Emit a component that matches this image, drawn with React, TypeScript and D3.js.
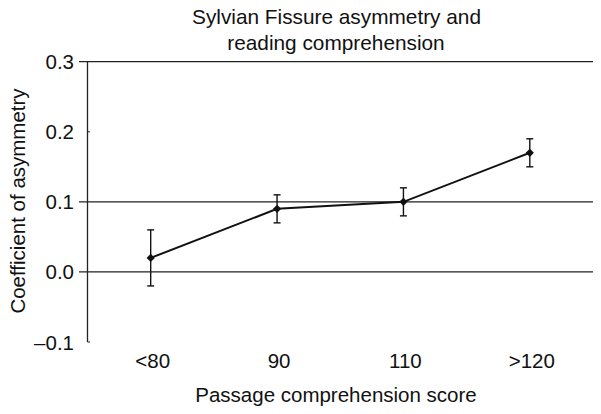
import React from "react";
import * as d3 from "d3";

const categories = ["<80", "90", "110", ">120"];
const means = [0.02, 0.09, 0.1, 0.17];
const upper = [0.06, 0.11, 0.12, 0.19];
const lower = [-0.02, 0.07, 0.08, 0.15];
const yTicks = [-0.1, 0.0, 0.1, 0.2, 0.3];
const gridValues = [0.0, 0.1, 0.3];

export default function App() {
  const W = 601, H = 414;
  const left = 87.5, right = 593, top = 61.7, bottom = 342;
  const x = d3.scaleBand<string>().domain(categories).range([left, right]);
  const y = d3.scaleLinear().domain([-0.1, 0.3]).range([bottom, top]);
  const cx = (c: string) => (x(c) as number) + x.bandwidth() / 2;
  const line = d3.line<number>().x((_, i) => cx(categories[i])).y((d) => y(d));
  const font = "Liberation Sans, Arial, Helvetica, sans-serif";
  const fs = 20.5;
  const fmt = (v: number) => (v < 0 ? "\u2013" + Math.abs(v).toFixed(1) : v.toFixed(1));
  const marker = d3.symbol().type(d3.symbolSquare).size(34)() as string;

  return (
    <svg width={W} height={H} style={{ position: "absolute", left: 0, top: 0, background: "#fff" }}>
      <rect width={W} height={H} fill="#fff" />
      <text x={336.5} y={24} textAnchor="middle" fontFamily={font} fontSize={20.8} fill="#111">
        Sylvian Fissure asymmetry and
      </text>
      <text x={336} y={50} textAnchor="middle" fontFamily={font} fontSize={20.8} fill="#111">
        reading comprehension
      </text>
      {gridValues.map((v) => (
        <line key={v} x1={79} x2={right} y1={y(v)} y2={y(v)} stroke="#222" strokeWidth={1.3} />
      ))}
      <line x1={left} x2={left} y1={top} y2={bottom} stroke="#222" strokeWidth={1.3} />
      {yTicks
        .filter((v) => !gridValues.includes(v))
        .map((v) => (
          <line key={"t" + v} x1={left} x2={left + 2.5} y1={y(v)} y2={y(v)} stroke="#222" strokeWidth={1} />
        ))}
      {yTicks.map((v) => (
        <text key={v} x={74} y={y(v) + 7.5} textAnchor="end" fontFamily={font} fontSize={fs} fill="#111">
          {fmt(v)}
        </text>
      ))}
      {categories.map((c) => (
        <text key={c} x={cx(c) + 2} y={368} textAnchor="middle" fontFamily={font} fontSize={fs} fill="#111">
          {c}
        </text>
      ))}
      <text x={336} y={401.5} textAnchor="middle" fontFamily={font} fontSize={fs} fill="#111">
        Passage comprehension score
      </text>
      <text
        transform={`translate(24.5,201) rotate(-90)`}
        textAnchor="middle"
        fontFamily={font}
        fontSize={fs}
        fill="#111"
      >
        Coefficient of asymmetry
      </text>
      <path d={line(means) as string} fill="none" stroke="#111" strokeWidth={2} />
      {categories.map((c, i) => (
        <g key={c} stroke="#111" strokeWidth={1.4}>
          <line x1={cx(c)} x2={cx(c)} y1={y(upper[i])} y2={y(lower[i])} />
          <line x1={cx(c) - 3.5} x2={cx(c) + 3.5} y1={y(upper[i])} y2={y(upper[i])} />
          <line x1={cx(c) - 3.5} x2={cx(c) + 3.5} y1={y(lower[i])} y2={y(lower[i])} />
        </g>
      ))}
      {categories.map((c, i) => (
        <path key={c} d={marker} transform={`translate(${cx(c)},${y(means[i])}) rotate(45)`} fill="#111" />
      ))}
    </svg>
  );
}
